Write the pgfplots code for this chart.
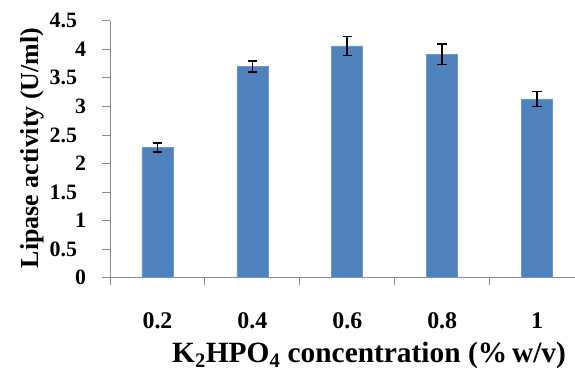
\documentclass[border=0pt]{standalone}
\usepackage{pgfplots}
\pgfplotsset{compat=1.18}
\usepackage{fontspec}
\setmainfont{Liberation Serif}
\definecolor{barblue}{HTML}{4F81BD}
\definecolor{baredge}{HTML}{6E97CB}
\definecolor{axgray}{HTML}{8C8C8C}
\begin{document}
\begin{tikzpicture}
\begin{axis}[
  scale only axis,
  width=465bp, height=257bp,
  at={(0,0)}, anchor=south west,
  xmin=-0.5, xmax=4.4,
  ymin=0, ymax=4.5,
  axis x line*=bottom, axis y line*=left,
  axis line style={axgray, line width=0.8pt},
  tick align=outside,
  major tick length=7.5bp,
  tick style={axgray, line width=0.8pt},
  xtick={-0.5,0.5,1.5,2.5,3.5},
  xticklabels={0.2,0.4,0.6,0.8,1},
  xticklabel style={xshift=47.5bp, yshift=-24bp, font=\bfseries\fontsize{24}{24}\selectfont},
  ytick={0,1,2,3,4},
  yticklabels={0,1,2,3,4},
  extra y ticks={0.5,1.5,2.5,3.5,4.5},
  extra y tick labels={0.5,1.5,2.5,3.5,4.5},
  extra y tick style={yticklabel style={xshift=-9bp}},
  yticklabel style={xshift=-13bp, font=\bfseries\fontsize{22}{22}\selectfont},
  /pgf/number format/assume math mode=true,
  xlabel={K\textsubscript{2}HPO\textsubscript{4} concentration (\%\,w/v)},
  xlabel style={at={(axis description cs:0.1333,0)}, anchor=base west, yshift=-85bp, inner sep=0pt, font=\bfseries\fontsize{29.5}{29.5}\selectfont},
  ylabel={Lipase activity (U/ml)},
  ylabel style={at={(axis description cs:-0.1548,0.5047)}, anchor=base, inner sep=0pt, font=\bfseries\fontsize{26}{26}\selectfont},
  clip=false,
]
\addplot[ybar, bar width=31bp, fill=barblue, draw=baredge, line width=0.6pt,
  error bars/.cd, y dir=both, y explicit,
  error bar style={black, line width=1.5pt},
  error mark options={rotate=90, black, mark size=4.7bp, line width=1.5pt}]
  coordinates {
  (0,2.28) +- (0,0.08)
  (1,3.70) +- (0,0.095)
  (2,4.06) +- (0,0.165)
  (3,3.91) +- (0,0.18)
  (4,3.13) +- (0,0.13)
  };
\end{axis}
\pgfresetboundingbox
\path (-110bp,-93.3bp) rectangle (465bp,277.7bp);
\end{tikzpicture}
\end{document}
